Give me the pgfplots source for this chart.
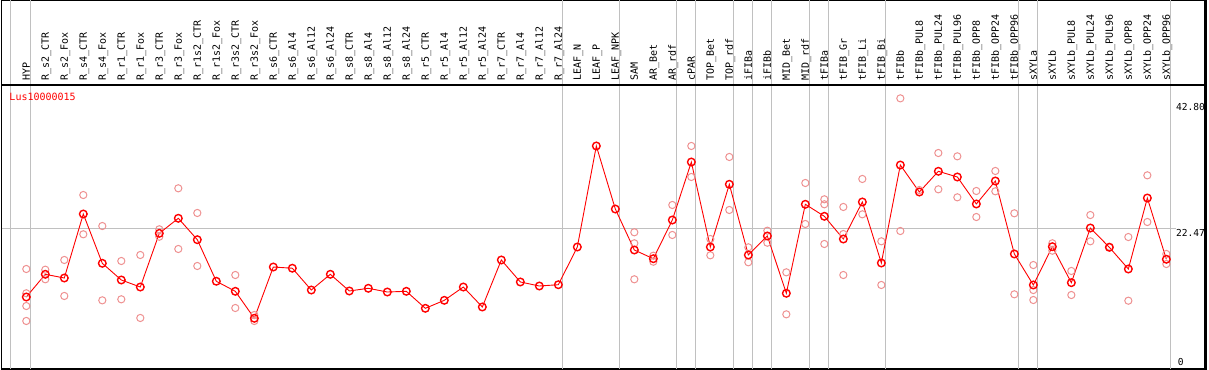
\documentclass[border=0pt]{standalone}
\usepackage{pgfplots}
\pgfplotsset{compat=1.18}
\usepackage{fontspec}
\newfontfamily\labfont{DejaVu Sans Mono}
\definecolor{gridgray}{RGB}{192,192,192}
\definecolor{mainred}{RGB}{255,0,0}
\definecolor{reppink}{RGB}{238,145,145}
\pgfplotstableread{
x y
1 16.11
1 12.31
1 10.32
1 7.98
2 16.00
2 14.50
3 17.52
3 11.89
4 27.68
4 21.54
5 22.83
5 11.21
6 17.36
6 11.37
7 18.30
7 8.45
8 22.32
8 21.16
9 28.73
9 19.24
10 24.87
10 16.58
12 15.17
12 10.01
13 8.91
13 7.98
33 21.85
33 20.13
33 14.50
34 18.19
34 17.25
35 26.12
35 21.43
36 35.35
36 30.50
37 20.80
37 18.25
38 33.63
38 25.34
39 19.50
39 17.16
40 22.10
40 20.22
41 15.59
41 9.02
42 29.56
42 23.15
43 27.01
43 26.23
43 20.02
44 25.81
44 21.58
44 15.17
45 30.19
45 24.66
46 20.44
46 13.61
47 42.80
47 22.05
48 28.46
49 34.25
49 28.57
50 33.73
50 27.32
51 28.31
51 24.24
52 31.44
52 28.26
53 24.82
53 12.15
54 16.73
54 12.82
54 11.26
55 20.13
55 18.97
56 15.80
56 12.04
57 24.55
57 20.44
58 19.60
59 21.11
59 11.15
60 30.76
60 23.46
61 18.46
61 16.89
}\reptable
\newcommand\lab[2]{\node[rotate=90,anchor=base west,inner sep=0pt,font=\labfont\fontsize{10bp}{12bp}\selectfont] at ([xshift=3.6bp]axis cs:#1,45.59) {#2};}
\newcommand\vl[1]{\draw[gridgray,line width=1bp] (axis cs:#1,0.469) -- (axis cs:#1,58.18);}
\begin{document}
\begin{tikzpicture}
\useasboundingbox (0,0) rectangle (1209bp,370bp);
\begin{axis}[
  at={(1.5bp,1bp)}, anchor=south west,
  scale only axis, width=1204.5bp, height=369bp,
  xmin=-0.3053, xmax=63.089, ymin=0.469, ymax=58.18,
  xtick=\empty, ytick=\empty,
  axis line style={black,line width=1.3bp},
  clip=false,
]
% grid lines
\vl{0.158}\vl{1.23}\vl{29.23}\vl{32.23}\vl{35.23}\vl{36.23}\vl{38.23}\vl{39.23}
\vl{40.23}\vl{42.23}\vl{43.23}\vl{46.23}\vl{53.23}\vl{54.23}\vl{61.23}
\draw[gridgray,line width=1bp] (axis cs:-0.3053,22.47) -- (axis cs:61.51,22.47);
\draw[black,line width=1.3bp] (axis cs:-0.3053,44.886) -- (axis cs:63.089,44.886);
\draw[black,line width=1.3bp] (axis cs:63.02,0.469) -- (axis cs:63.02,58.18);
% replicate points
\addplot[only marks, mark=o, mark size=3.6bp, reppink, mark options={line width=1bp}] table[x=x,y=y] {\reptable};
% main series
\addplot[mainred, line width=0.9bp, mark=o, mark size=3.8bp, mark options={line width=1.4bp}] coordinates {
(1,11.73)(2,15.28)(3,14.70)(4,24.71)(5,17.00)(6,14.39)(7,13.29)(8,21.69)(9,24.04)(10,20.69)
(11,14.19)(12,12.62)(13,8.40)(14,16.42)(15,16.23)(16,12.82)(17,15.28)(18,12.67)(19,13.09)(20,12.51)
(21,12.62)(22,9.96)(23,11.21)(24,13.29)(25,10.17)(26,17.52)(27,14.08)(28,13.45)(29,13.65)(30,19.55)
(31,35.35)(32,25.49)(33,19.08)(34,17.72)(35,23.77)(36,32.84)(37,19.55)(38,29.36)(39,18.30)(40,21.27)
(41,12.31)(42,26.23)(43,24.35)(44,20.80)(45,26.59)(46,17.05)(47,32.37)(48,28.15)(49,31.39)(50,30.50)
(51,26.28)(52,29.87)(53,18.46)(54,13.61)(55,19.60)(56,13.97)(57,22.52)(58,19.50)(59,16.11)(60,27.21)
(61,17.63)};
% category labels
\lab{1}{HYP}\lab{2}{R\_s2\_CTR}\lab{3}{R\_s2\_Fox}\lab{4}{R\_s4\_CTR}\lab{5}{R\_s4\_Fox}
\lab{6}{R\_r1\_CTR}\lab{7}{R\_r1\_Fox}\lab{8}{R\_r3\_CTR}\lab{9}{R\_r3\_Fox}\lab{10}{R\_r1s2\_CTR}
\lab{11}{R\_r1s2\_Fox}\lab{12}{R\_r3s2\_CTR}\lab{13}{R\_r3s2\_Fox}\lab{14}{R\_s6\_CTR}\lab{15}{R\_s6\_Al4}
\lab{16}{R\_s6\_Al12}\lab{17}{R\_s6\_Al24}\lab{18}{R\_s8\_CTR}\lab{19}{R\_s8\_Al4}\lab{20}{R\_s8\_Al12}
\lab{21}{R\_s8\_Al24}\lab{22}{R\_r5\_CTR}\lab{23}{R\_r5\_Al4}\lab{24}{R\_r5\_Al12}\lab{25}{R\_r5\_Al24}
\lab{26}{R\_r7\_CTR}\lab{27}{R\_r7\_Al4}\lab{28}{R\_r7\_Al12}\lab{29}{R\_r7\_Al24}\lab{30}{LEAF\_N}
\lab{31}{LEAF\_P}\lab{32}{LEAF\_NPK}\lab{33}{SAM}\lab{34}{AR\_Bet}\lab{35}{AR\_rdf}
\lab{36}{cPAR}\lab{37}{TOP\_Bet}\lab{38}{TOP\_rdf}\lab{39}{iFIBa}\lab{40}{iFIBb}
\lab{41}{MID\_Bet}\lab{42}{MID\_rdf}\lab{43}{tFIBa}\lab{44}{tFIB\_Gr}\lab{45}{tFIB\_Li}
\lab{46}{tFIB\_Bi}\lab{47}{tFIBb}\lab{48}{tFIBb\_PUL8}\lab{49}{tFIBb\_PUL24}\lab{50}{tFIBb\_PUL96}
\lab{51}{tFIBb\_OPP8}\lab{52}{tFIBb\_OPP24}\lab{53}{tFIBb\_OPP96}\lab{54}{sXYLa}\lab{55}{sXYLb}
\lab{56}{sXYLb\_PUL8}\lab{57}{sXYLb\_PUL24}\lab{58}{sXYLb\_PUL96}\lab{59}{sXYLb\_OPP8}\lab{60}{sXYLb\_OPP24}
\lab{61}{sXYLb\_OPP96}
% right-hand value labels
\node[anchor=west,inner sep=0pt,font=\labfont\fontsize{9.6bp}{12bp}\selectfont] at (axis cs:61.5,41.37) {42.80};
\node[anchor=west,inner sep=0pt,font=\labfont\fontsize{9.6bp}{12bp}\selectfont] at (axis cs:61.5,21.82) {22.47};
\node[anchor=west,inner sep=0pt,font=\labfont\fontsize{9.6bp}{12bp}\selectfont] at (axis cs:61.6,1.56) {0};
% series name
\node[anchor=west,inner sep=0pt,text=mainred,font=\labfont\fontsize{10bp}{12bp}\selectfont] at (axis cs:0.105,43.0) {Lus10000015};
\end{axis}
\end{tikzpicture}
\end{document}
